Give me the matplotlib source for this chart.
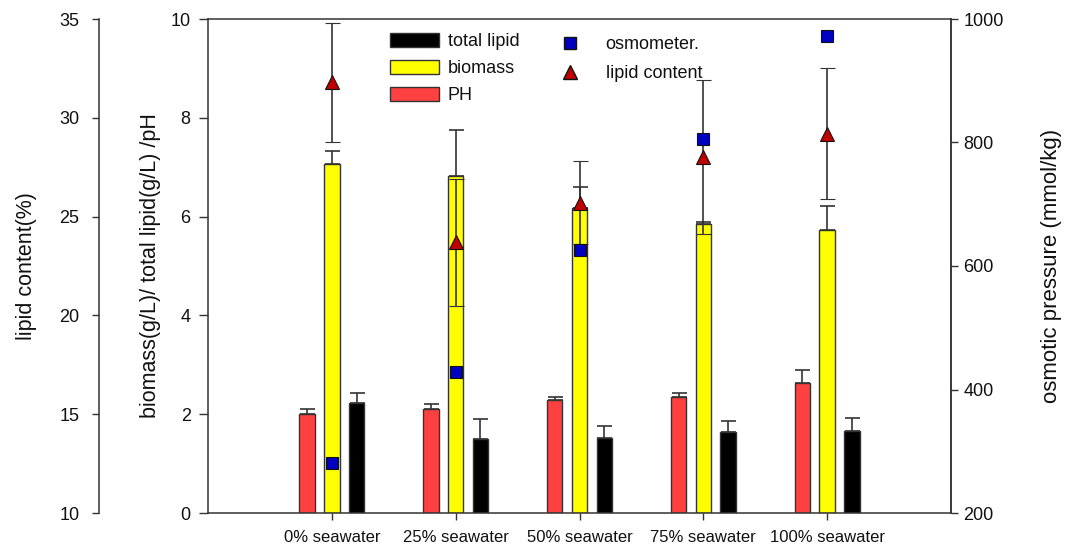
import matplotlib
matplotlib.use("Agg")
import numpy as np
import matplotlib.pyplot as plt
from matplotlib.patches import Patch
from matplotlib.lines import Line2D

plt.rcParams['font.family'] = ['Liberation Sans', 'DejaVu Sans']

# data per seawater level
categories = ['0% seawater', '25% seawater', '50% seawater', '75% seawater', '100% seawater']
ph = [2.00, 2.11, 2.29, 2.34, 2.64]
ph_err = [0.11, 0.09, 0.05, 0.09, 0.26]
biomass = [7.07, 6.83, 6.18, 5.86, 5.72]
biomass_err = [0.26, 0.93, 0.42, 0.03, 0.50]
total_lipid = [2.23, 1.50, 1.52, 1.64, 1.67]
total_lipid_err = [0.20, 0.40, 0.24, 0.23, 0.26]
lipid_content = [31.8, 23.7, 25.7, 28.0, 29.2]
lipid_content_err = [3.0, 3.2, 2.1, 3.9, 3.3]
osmotic = [281, 428, 626, 806, 972]
osmotic_err = [5, 5, 5, 5, 5]

W, H = 1069, 550
fig = plt.figure(figsize=(W / 100, H / 100), dpi=100)
ax = fig.add_axes([208 / W, 37 / H, 743 / W, 494 / H])

x = np.arange(len(categories))
bw = 0.125
dark = '#333333'
txt = '#111111'
err_kw = dict(ecolor=dark, elinewidth=1.2, capthick=1.2)


def one_sided(err):
    return [np.zeros(len(err)), err]


b_ph = ax.bar(x - 0.2, ph, bw, yerr=one_sided(ph_err), color='#FF4040',
              edgecolor=dark, linewidth=1, capsize=5.4, error_kw=err_kw)
b_bio = ax.bar(x, biomass, bw, yerr=one_sided(biomass_err), color='#FFFF00',
               edgecolor=dark, linewidth=1, capsize=5.4, error_kw=err_kw)
b_tl = ax.bar(x + 0.2, total_lipid, bw, yerr=one_sided(total_lipid_err), color='black',
              edgecolor=dark, linewidth=1, capsize=5.4, error_kw=err_kw)

ax.set_xlim(-1, 5)
ax.set_ylim(0, 10)
ax.set_xticks(x)
ax.set_xticklabels(categories, fontsize=12, color=txt)
ax.set_yticks(np.arange(0, 11, 2))
ax.tick_params(axis='y', labelsize=13, labelcolor=txt, length=6.5, width=1, pad=6, color=dark)
ax.tick_params(axis='x', length=5, width=1, pad=7, color=dark)
ax.set_ylabel('biomass(g/L)/ total lipid(g/L) /pH', fontsize=15.5, color=txt)
ax.yaxis.set_label_coords((161 - 208) / 743, 0.5)
for s in ax.spines.values():
    s.set_color(dark)
    s.set_linewidth(1.1)

# lipid content on an offset left axis
ax_lip = ax.twinx()
ax_lip.spines['left'].set_position(('axes', (99 - 208) / 743))
ax_lip.spines['left'].set_visible(True)
for k in ('right', 'top', 'bottom'):
    ax_lip.spines[k].set_visible(False)
ax_lip.spines['left'].set_color(dark)
ax_lip.spines['left'].set_linewidth(1.1)
ax_lip.yaxis.set_ticks_position('left')
ax_lip.yaxis.set_label_position('left')
ax_lip.set_ylim(10, 35)
ax_lip.set_yticks(np.arange(10, 36, 5))
ax_lip.tick_params(axis='y', labelsize=13, labelcolor=txt, length=5, width=1, pad=9, color=dark)
ax_lip.set_ylabel('lipid content(%)', fontsize=15.5, color=txt)
ax_lip.yaxis.set_label_coords((37 - 208) / 743, 0.5)
ax_lip.errorbar(x, lipid_content, yerr=lipid_content_err, fmt='^', ms=10,
                mfc='#C00000', mec='#111111', mew=0.8, ecolor=dark,
                elinewidth=1.2, capsize=5.4, capthick=1.2)

# osmotic pressure on the right axis
ax_osm = ax.twinx()
for k in ('left', 'top', 'bottom'):
    ax_osm.spines[k].set_visible(False)
ax_osm.spines['right'].set_color(dark)
ax_osm.spines['right'].set_linewidth(1.1)
ax_osm.set_ylim(200, 1000)
ax_osm.set_yticks(np.arange(200, 1001, 200))
ax_osm.tick_params(axis='y', labelsize=13, labelcolor=txt, length=5, width=1, pad=4, color=dark)
ax_osm.set_ylabel('osmotic pressure (mmol/kg)', fontsize=16, color=txt)
ax_osm.yaxis.set_label_coords((1041 - 208) / 743, 0.5)
ax_osm.errorbar(x, osmotic, yerr=osmotic_err, fmt='s', ms=9,
                mfc='#0000C0', mec='#111111', mew=0.8, ecolor=dark,
                elinewidth=1.2, capsize=3, capthick=1.2)

# legends
bar_handles = [Patch(facecolor='black', edgecolor=dark),
               Patch(facecolor='#FFFF00', edgecolor=dark),
               Patch(facecolor='#FF4040', edgecolor=dark)]
leg1 = ax_osm.legend(bar_handles, ['total lipid', 'biomass', 'PH'],
                     loc='upper left', bbox_to_anchor=(390 / W, 1 - 33 / H),
                     bbox_transform=fig.transFigure, frameon=False, fontsize=13,
                     handlelength=2.7, handleheight=0.85, handletextpad=0.5,
                     labelspacing=0.52, borderpad=0, borderaxespad=0)
for t in leg1.get_texts():
    t.set_color(txt)
ax_osm.add_artist(leg1)

mark_handles = [Line2D([], [], ls='none', marker='s', ms=8, mfc='#0000C0', mec='#111111'),
                Line2D([], [], ls='none', marker='^', ms=10, mfc='#C00000', mec='#111111')]
leg2 = ax_osm.legend(mark_handles, ['osmometer.', 'lipid content'],
                     loc='upper left', bbox_to_anchor=(556 / W, 1 - 36 / H),
                     bbox_transform=fig.transFigure, frameon=False, fontsize=13,
                     handlelength=1.5, handletextpad=1.25,
                     labelspacing=0.68, borderpad=0, borderaxespad=0)
for t in leg2.get_texts():
    t.set_color(txt)

fig.savefig('out.png', dpi=100)
